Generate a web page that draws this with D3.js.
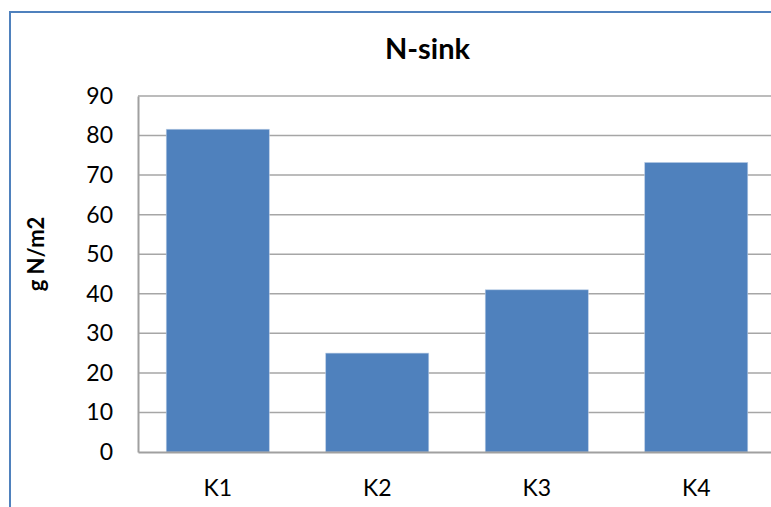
<!DOCTYPE html>
<html>
<head>
<meta charset="utf-8">
<script src="https://cdn.jsdelivr.net/npm/d3@7"></script>
<style>
  html, body { margin: 0; padding: 0; background: #fff; overflow: hidden; }
  svg { display: block; font-family: Lato, "Open Sans", sans-serif; }
</style>
</head>
<body>
<svg id="chart" width="771" height="507"></svg>
<script>
// N-sink per site
const categories = ["K1", "K2", "K3", "K4"];
const values = [81.6, 25, 41, 73.2];
const yTicks = [0, 10, 20, 30, 40, 50, 60, 70, 80, 90];
const title = "N-sink";
const yLabel = "g N/m2";

const W = 771, H = 507;
const plot = { left: 138, top: 96, right: 776, bottom: 452 };

const svg = d3.select("#chart");

// chart-area frame
svg.append("rect")
  .attr("x", 10).attr("y", 12)
  .attr("width", W + 20).attr("height", H + 20)
  .attr("fill", "#fff")
  .attr("stroke", "#4f81bd").attr("stroke-width", 2);

const x = d3.scaleBand()
  .domain(categories)
  .range([plot.left, plot.right])
  .paddingInner(0.354)
  .paddingOuter(0.177);

const y = d3.scaleLinear()
  .domain([0, 90])
  .range([plot.bottom, plot.top]);

// horizontal gridlines
svg.append("g")
  .selectAll("line")
  .data(yTicks.filter(d => d > 0))
  .join("line")
  .attr("x1", plot.left).attr("x2", plot.right)
  .attr("y1", d => y(d)).attr("y2", d => y(d))
  .attr("stroke", "#a6a6a6").attr("stroke-width", 1.5);

// bars
svg.append("g")
  .selectAll("rect")
  .data(values)
  .join("rect")
  .attr("x", (d, i) => x(categories[i]))
  .attr("y", d => y(d))
  .attr("width", x.bandwidth())
  .attr("height", d => y(0) - y(d))
  .attr("fill", "#4f81bd")
  .attr("stroke", "#b7cbe4").attr("stroke-width", 0.6);

// y axis
const yAxis = d3.axisLeft(y).tickValues(yTicks).tickSize(0).tickPadding(25);
const gy = svg.append("g").attr("transform", `translate(${plot.left},0)`).call(yAxis);
gy.select(".domain").attr("stroke", "#a0a0a0").attr("stroke-width", 2);
gy.selectAll("text").attr("font-size", 23).attr("fill", "#000")
  .attr("font-family", "Lato, sans-serif");

// x axis
const xAxis = d3.axisBottom(x).tickSize(0).tickPadding(28);
const gx = svg.append("g").attr("transform", `translate(0,${plot.bottom})`).call(xAxis);
gx.select(".domain").attr("stroke", "#a0a0a0").attr("stroke-width", 2);
gx.selectAll("text").attr("font-size", 23).attr("fill", "#000")
  .attr("font-family", "Lato, sans-serif");

// title
svg.append("text")
  .attr("x", 427.5).attr("y", 59)
  .attr("text-anchor", "middle")
  .attr("font-size", 29).attr("font-weight", "bold")
  .text(title);

// y axis title
svg.append("text")
  .attr("transform", "translate(44,254) rotate(-90)")
  .attr("text-anchor", "middle")
  .attr("font-size", 22).attr("font-weight", "bold")
  .text(yLabel);
</script>
</body>
</html>
